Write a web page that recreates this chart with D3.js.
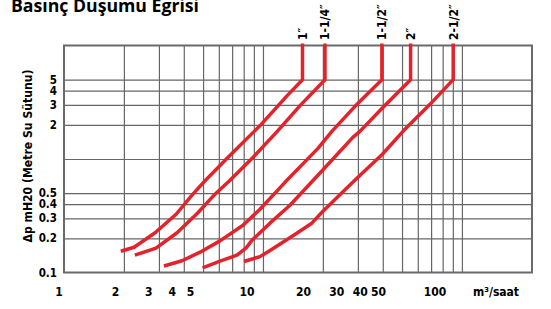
<!DOCTYPE html>
<html>
<head>
<meta charset="utf-8">
<script src="https://cdn.jsdelivr.net/npm/d3@7"></script>
<style>
  body { margin: 0; background: #fff; }
  svg { display: block; }
  .narrow { font-family: 'Liberation Sans Narrow', 'DejaVu Sans Condensed', 'Arial Narrow', sans-serif; font-weight: bold; }
</style>
</head>
<body>
<svg id="chart" width="551" height="309"></svg>
<script>
// pipe sizes, one curve each
const pipes = ['1″', '1-1/4″', '1-1/2″', '2″', '2-1/2″'];
// [flow m3/h, pressure drop mH2O]
const curve1 = [[1.93, 0.154], [2.25, 0.167], [2.87, 0.224], [3.66, 0.326], [4.4, 0.48], [5.1, 0.64], [6.8, 1.07], [9.7, 1.98], [13.2, 3.6], [15.8, 5], [15.8, 10.4]];
const curve2 = [[2.27, 0.142], [2.9, 0.164], [3.7, 0.224], [4.71, 0.336], [5.74, 0.49], [6.83, 0.65], [8.9, 1.03], [11.8, 1.75], [15.4, 2.97], [20.5, 5], [20.5, 10.4]];
const curve3 = [[3.18, 0.114], [3.92, 0.127], [4.83, 0.151], [6.08, 0.19], [7.94, 0.261], [9.66, 0.361], [12.9, 0.623], [18.9, 1.24], [22.2, 1.75], [29, 2.91], [39.6, 5], [39.6, 10.4]];
const curve4 = [[4.97, 0.11], [6.08, 0.126], [7.4, 0.142], [8.21, 0.164], [8.8, 0.192], [10.84, 0.272], [13.67, 0.391], [19.3, 0.748], [28.3, 1.55], [30.7, 1.75], [39.6, 2.79], [55.2, 5], [55.2, 10.4]];
const curve5 = [[8.03, 0.125], [9.66, 0.138], [11.1, 0.16], [14.15, 0.211], [17.6, 0.272], [19.8, 0.339], [23.5, 0.455], [29.3, 0.662], [39.6, 1.09], [51.1, 1.79], [69.1, 3.03], [90.4, 5], [90.4, 10.4]];
const curves = [curve1, curve2, curve3, curve4, curve5];

const gridX = [2, 3, 4, 5, 6, 7, 8, 9, 10, 20, 30, 40, 50, 60, 70, 80, 90, 100];
const gridY = [0.2, 0.3, 0.4, 0.5, 1, 2, 3, 4, 5];
const labelX = [1, 2, 3, 4, 5, 10, 20, 30, 40, 50, 100];
const labelY = [0.1, 0.2, 0.3, 0.4, 0.5, 2, 3, 4, 5];

const svg = d3.select('#chart');
const red = '#e3232b';
const gridColor = '#666';

let x = d3.scaleLog().domain([1, 225]).range([64, 532]);
let y = d3.scaleLog().domain([0.1, 10]).range([272.5, 45.5]);
// the printed flow numbers sit a little left of their grid lines
let xLabel = d3.scaleLog().domain([1, 100]).range([59, 435]);

// grid
let grid = svg.append('g');
grid.append('g')
  .attr('transform', `translate(0,${y(0.1)})`)
  .call(d3.axisBottom(x).tickValues(gridX).tickSize(y(10) - y(0.1)).tickFormat(''))
  .call(g => g.select('.domain').remove());
grid.append('g')
  .attr('transform', `translate(${x(1)},0)`)
  .call(d3.axisRight(y).tickValues(gridY).tickSize(x(225) - x(1)).tickFormat(''))
  .call(g => g.select('.domain').remove());
grid.selectAll('.tick line').attr('stroke', gridColor).attr('stroke-width', 1.2);

svg.append('rect')
  .attr('x', x(1))
  .attr('y', y(10))
  .attr('width', x(225) - x(1))
  .attr('height', y(0.1) - y(10))
  .attr('fill', 'none')
  .attr('stroke', '#6a6a6a')
  .attr('stroke-width', 2);

// tick labels
svg.append('g')
  .attr('class', 'narrow')
  .selectAll('text')
  .data(labelY)
  .enter().append('text')
  .attr('x', 57)
  .attr('y', d => y(d))
  .attr('dy', '0.36em')
  .attr('text-anchor', 'end')
  .attr('font-size', 11.5)
  .text(d => d);

svg.append('g')
  .attr('class', 'narrow')
  .selectAll('text')
  .data(labelX)
  .enter().append('text')
  .attr('x', d => xLabel(d))
  .attr('y', 296)
  .attr('text-anchor', 'middle')
  .attr('font-size', 12)
  .text(d => d);

svg.append('text')
  .attr('class', 'narrow')
  .attr('x', 496)
  .attr('y', 296)
  .attr('text-anchor', 'middle')
  .attr('font-size', 12)
  .text('m³/saat');

svg.append('text')
  .attr('class', 'narrow')
  .attr('transform', 'translate(27,156) rotate(-90)')
  .attr('dy', '0.36em')
  .attr('text-anchor', 'middle')
  .attr('font-size', 13)
  .attr('textLength', 173)
  .attr('lengthAdjust', 'spacingAndGlyphs')
  .text('Δp mH20 (Metre Su Sütunu)');

svg.append('text')
  .attr('x', 11)
  .attr('y', 11.5)
  .attr('font-family', "'Open Sans', sans-serif")
  .attr('font-weight', 'bold')
  .attr('font-size', 18)
  .attr('textLength', 188)
  .attr('lengthAdjust', 'spacingAndGlyphs')
  .text('Basınç Duşumu Egrisi');

// curves
let line = d3.line()
  .x(d => x(d[0]))
  .y(d => y(d[1]));

svg.append('g')
  .selectAll('path')
  .data(curves)
  .enter().append('path')
  .attr('d', line)
  .attr('fill', 'none')
  .attr('stroke', red)
  .attr('stroke-width', 3.5)
  .attr('stroke-linejoin', 'round');

// pipe size labels above each vertical end
svg.append('g')
  .attr('class', 'narrow')
  .selectAll('text')
  .data(pipes)
  .enter().append('text')
  .attr('transform', (d, i) => {
    let last = curves[i][curves[i].length - 1];
    return `translate(${x(last[0])},40) rotate(-90)`;
  })
  .attr('dy', '0.36em')
  .attr('font-size', 12)
  .text(d => d);
</script>
</body>
</html>
